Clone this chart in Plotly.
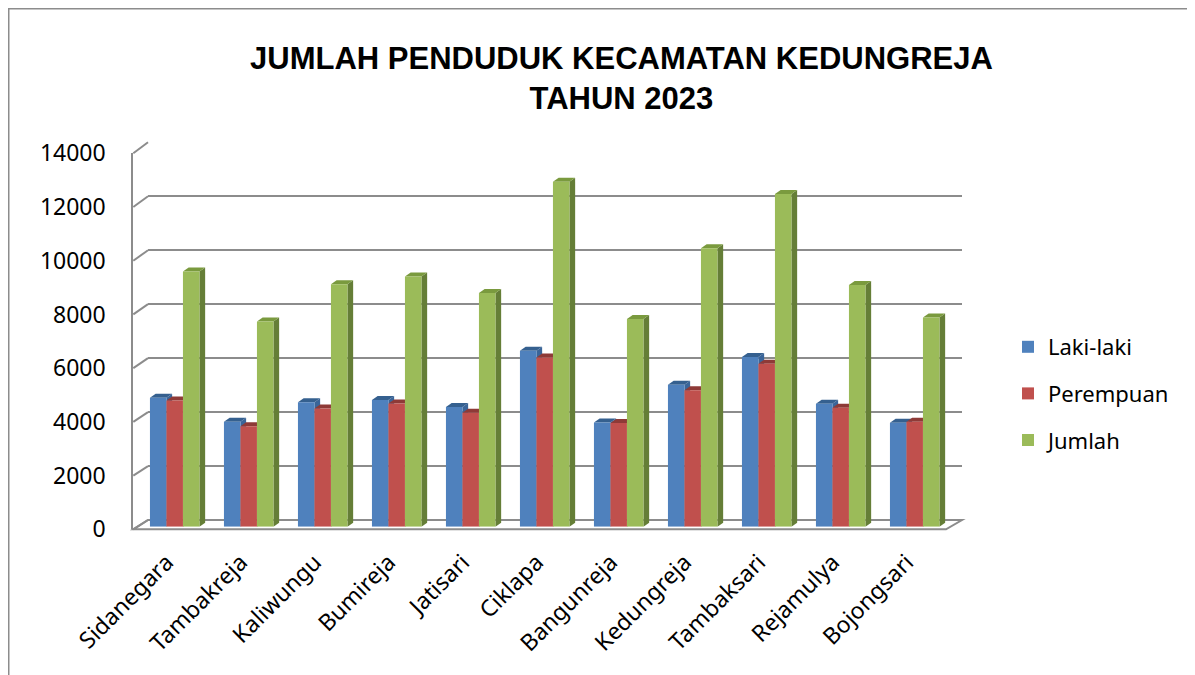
import plotly.graph_objects as go

# ---------------- data ----------------
categories = ["Sidanegara", "Tambakreja", "Kaliwungu", "Bumireja", "Jatisari", "Ciklapa",
              "Bangunreja", "Kedungreja", "Tambaksari", "Rejamulya", "Bojongsari"]
laki_laki = [4780, 3890, 4610, 4700, 4440, 6520, 3860, 5260, 6290, 4560, 3850]
perempuan = [4680, 3720, 4380, 4570, 4220, 6270, 3840, 5060, 6040, 4410, 3890]
jumlah = [9460, 7610, 8990, 9270, 8660, 12790, 7700, 10320, 12330, 8960, 7750]
series_names = ["Laki-laki", "Perempuan", "Jumlah"]
y_ticks = [0, 2000, 4000, 6000, 8000, 10000, 12000, 14000]
y_tick_labels = [str(v) for v in y_ticks]
title_text = "JUMLAH PENDUDUK KECAMATAN KEDUNGREJA<br>TAHUN 2023"

# ---------------- styling / geometry ----------------
W, H = 1195, 675
PAGE_OFF = 8  # page body margin
def px(x): return (x - PAGE_OFF) / W
def py(y): return 1 - (y - PAGE_OFF) / H

front_col = ["#4F81BD", "#C0504D", "#9BBB59"]
top_col = ["#35608F", "#8E3A37", "#7A9A3E"]
side_col = ["#3A6599", "#973F3C", "#657E37"]
GRID = "#8C8C8C"
FONT = "Noto Sans"
YMAX = 14000

BACK_L, BACK_R, BACK_B, BACK_T = 148, 962, 520, 142.3
BAR_L, BAR_R, BAR_B = 137.7, 951.7, 526.7
BAR_T = BAR_B - (BACK_B - BACK_T)
FR_L, FR_R, FR_B, FR_T = 133.3, 946, 529.3, 153.3
LAB_SHIFT = 8

n = len(categories)
xs = list(range(n))
bar_w = 0.223
depth_px = (5.7, 4.0)
ux = (BAR_R - BAR_L) / n
uy = (BAR_B - BAR_T) / YMAX
ddx = depth_px[0] / ux
ddy = depth_px[1] / uy

fig = go.Figure()

fig.add_trace(go.Scatter(x=[0.5], y=[0], xaxis="x", yaxis="y", mode="markers",
                         marker=dict(opacity=0), showlegend=False, hoverinfo="skip"))
fig.add_trace(go.Scatter(x=[0.5], y=[0], xaxis="x3", yaxis="y3", mode="markers",
                         marker=dict(opacity=0), showlegend=False, hoverinfo="skip"))
fig.add_trace(go.Scatter(x=[0], y=[0], xaxis="x4", yaxis="y2", mode="markers",
                         marker=dict(opacity=0), showlegend=False, hoverinfo="skip"))

all_series = [laki_laki, perempuan, jumlah]
shapes = []
for i, (name, vals) in enumerate(zip(series_names, all_series)):
    off = -1.5 * bar_w + i * bar_w
    fig.add_trace(go.Bar(x=xs, y=vals, name=name, xaxis="x2", yaxis="y2",
                         width=bar_w, offset=off,
                         marker=dict(color=front_col[i], line=dict(width=0)),
                         legendgroup=name))
    for k, v in zip(xs, vals):
        xl = k + off
        xr = xl + bar_w
        shapes.append(dict(type="path", xref="x2", yref="y2", layer="between",
                           path=f"M{xr},0 L{xr+ddx},{ddy} L{xr+ddx},{v+ddy} L{xr},{v} Z",
                           fillcolor=side_col[i], line=dict(width=0)))
        shapes.append(dict(type="path", xref="x2", yref="y2", layer="between",
                           path=f"M{xl},{v} L{xl+ddx},{v+ddy} L{xr+ddx},{v+ddy} L{xr},{v} Z",
                           fillcolor=top_col[i], line=dict(width=0)))

shapes.append(dict(type="path", xref="paper", yref="paper", layer="below",
                   path=f"M{px(FR_L)},{py(FR_B)} L{px(FR_R)},{py(FR_B)} L{px(BACK_R)},{py(BACK_B)} L{px(BACK_L)},{py(BACK_B)} Z",
                   fillcolor="white", line=dict(color=GRID, width=2)))
for t in y_ticks:
    yf = FR_B - (FR_B - FR_T) * t / YMAX
    yb = BACK_B - (BACK_B - BACK_T) * t / YMAX
    shapes.append(dict(type="line", xref="paper", yref="paper", layer="below",
                       x0=px(FR_L), y0=py(yf), x1=px(BACK_L), y1=py(yb),
                       line=dict(color=GRID, width=2)))
# chart border (top and left edges of the chart frame)
shapes.append(dict(type="line", xref="paper", yref="paper", x0=0, y0=1, x1=1.0, y1=1,
                   line=dict(color="#8C8C8C", width=3)))
shapes.append(dict(type="line", xref="paper", yref="paper", x0=0, y0=1, x1=0, y1=0,
                   line=dict(color="#8C8C8C", width=3)))

fig.update_layout(
    width=W, height=H, autosize=False,
    margin=dict(l=0, r=0, t=0, b=0, pad=0, autoexpand=False),
    paper_bgcolor="white", plot_bgcolor="rgba(0,0,0,0)",
    barmode="overlay",
    showlegend=True,
    shapes=shapes,
    font=dict(family=FONT, size=22, color="#000000"),
    xaxis=dict(domain=[px(BACK_L), px(BACK_R)], range=[0, 1], visible=False, fixedrange=True,
               automargin=False),
    yaxis=dict(domain=[py(BACK_B), py(BACK_T)], range=[0, YMAX], anchor="x", automargin=False,
               tickvals=y_ticks, showticklabels=False, showgrid=True, gridcolor=GRID,
               gridwidth=2, zeroline=False, showline=False),
    xaxis2=dict(domain=[px(BAR_L), px(BAR_R)], range=[-0.5, n - 0.5], anchor="y2", automargin=False,
                visible=False),
    yaxis2=dict(domain=[py(BAR_B), py(BAR_T)], range=[0, YMAX], anchor="x2",
                visible=False, automargin=False),
    xaxis3=dict(domain=[px(FR_L), px(FR_R)], range=[0, 1], anchor="y3", visible=False,
                automargin=False),
    yaxis3=dict(domain=[py(FR_B), py(FR_T)], range=[0, YMAX], anchor="x3", automargin=False,
                tickvals=y_ticks, ticktext=y_tick_labels, showgrid=False, zeroline=False,
                showline=True, linecolor=GRID, linewidth=2, ticks="outside", ticklen=21,
                tickcolor="rgba(0,0,0,0)", tickfont=dict(family=FONT, size=23, color="#000")),
    xaxis4=dict(domain=[px(BAR_L - LAB_SHIFT), px(BAR_R - LAB_SHIFT)], range=[-0.5, n - 0.5],
                anchor="free", position=py(BAR_B), automargin=False,
                tickvals=xs, ticktext=categories, tickangle=-45, showgrid=False,
                zeroline=False, showline=False, ticks="outside", ticklen=12,
                tickcolor="rgba(0,0,0,0)", tickfont=dict(family=FONT, size=23, color="#000")),
    legend=dict(x=px(1008), y=py(326), xanchor="left", yanchor="top",
                font=dict(family=FONT, size=22, color="#000"), tracegroupgap=15,
                bgcolor="rgba(0,0,0,0)"),
    annotations=[dict(text=title_text, x=px(621), y=py(79), xref="paper", yref="paper",
                      xanchor="center", yanchor="middle", showarrow=False,
                      font=dict(family="Liberation Sans", size=31, color="#000", weight="bold"))],
)

fig.write_html("out.html")
